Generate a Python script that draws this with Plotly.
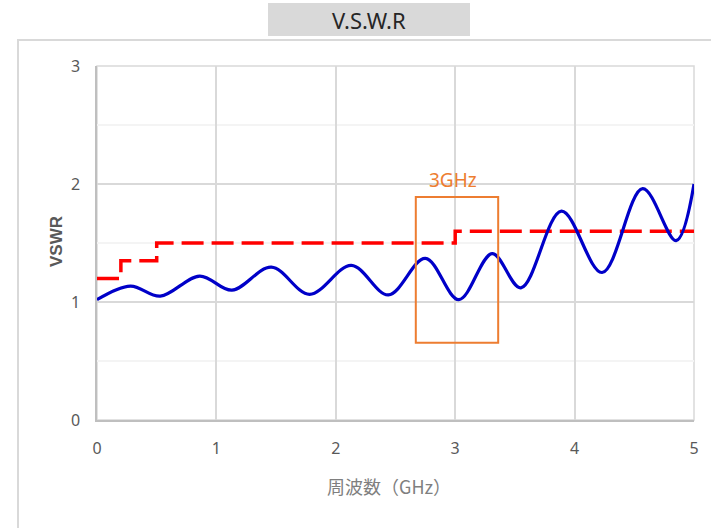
import plotly.graph_objects as go

# Blue VSWR curve (extrema points)
freq_ghz = [0.0, 0.28, 0.53, 0.86, 1.13, 1.46, 1.78, 2.13, 2.44, 2.75, 3.03, 3.31, 3.55, 3.89, 4.23, 4.57, 4.85, 5.0]
vswr = [1.02, 1.135, 1.05, 1.22, 1.10, 1.295, 1.065, 1.31, 1.06, 1.37, 1.02, 1.41, 1.12, 1.77, 1.25, 1.96, 1.52, 2.0]

# Red spec limit (step)
spec_freq = [0.0, 0.2, 0.5, 3.0, 5.0]
spec_vswr = [1.2, 1.35, 1.5, 1.6, 1.6]

x_ticks = [0, 1, 2, 3, 4, 5]
y_ticks = [0, 1, 2, 3]

# Highlight box around 3 GHz
box_x = [2.67, 3.36]
box_y = [0.655, 1.89]
box_label = "3GHz"

TICK_FONT = dict(family="Liberation Sans Narrow, Noto Sans, sans-serif", size=16, color="#595959")

fig = go.Figure()
fig.add_trace(go.Scatter(x=spec_freq, y=spec_vswr, mode="lines", line_shape="hv",
                         line=dict(color="#FF0000", width=3.5, dash="22px,8px"), showlegend=False))
fig.add_trace(go.Scatter(x=freq_ghz, y=vswr, mode="lines", line_shape="spline",
                         line=dict(color="#0000C8", width=3.2, smoothing=1.0), showlegend=False))

W, H = 711, 528
L, R, T, B = 97, 694, 66, 420
pw, ph = R - L, B - T

def px(x):
    return (x - L) / pw

def py(y):
    return (B - y) / ph

shapes = [
    # outer chart border
    dict(type="rect", xref="paper", yref="paper", x0=px(18), x1=px(720), y0=py(540), y1=py(40),
         line=dict(color="#d9d9d9", width=2), layer="below"),
    # plot area border
    dict(type="rect", xref="paper", yref="paper", x0=0, x1=1, y0=0, y1=1,
         line=dict(color="#d9d9d9", width=1.5), layer="below"),
    # title box
    dict(type="rect", xref="paper", yref="paper", x0=px(268), x1=px(470), y0=py(36), y1=py(3),
         fillcolor="#d9d9d9", line=dict(width=0), layer="below"),
    # 3 GHz highlight box
    dict(type="rect", xref="x", yref="y", x0=box_x[0], x1=box_x[1], y0=box_y[0], y1=box_y[1],
         line=dict(color="#ED7D31", width=2)),
]

annotations = [
    dict(text="V.S.W.R", xref="paper", yref="paper", x=px(369), y=py(20), showarrow=False,
         xanchor="center", yanchor="middle",
         font=dict(family="Liberation Sans Narrow, Noto Sans, sans-serif", size=22, color="#262626")),
    dict(text="VSWR", xref="paper", yref="paper", x=px(56), y=py(242), showarrow=False, textangle=-90,
         xanchor="center", yanchor="middle",
         font=dict(family="Liberation Sans, Noto Sans, sans-serif", size=17, color="#595959", weight="bold")),
    dict(text="周波数（GHz）", xref="paper", yref="paper", x=px(389), y=py(486), showarrow=False,
         xanchor="center", yanchor="middle",
         font=dict(family="Noto Sans CJK JP, sans-serif", size=18, color="#7f7f7f")),
    dict(text=box_label, xref="x", yref="y", x=(box_x[0] + box_x[1]) / 2 - 0.03, y=box_y[1], showarrow=False,
         xanchor="center", yanchor="bottom", yshift=2,
         font=dict(family="Liberation Sans Narrow, Noto Sans, sans-serif", size=19, color="#ED7D31")),
]

fig.update_layout(
    width=W, height=H,
    margin=dict(l=L, r=W - R, t=T, b=H - B),
    paper_bgcolor="white", plot_bgcolor="white",
    shapes=shapes, annotations=annotations,
    showlegend=False,
)
fig.update_xaxes(range=[0, 5], tickvals=x_ticks, ticktext=[str(v) for v in x_ticks],
                 showgrid=True, gridcolor="#d9d9d9", gridwidth=1.5, zeroline=False,
                 showline=True, linecolor="#bfbfbf", linewidth=2,
                 ticks="outside", ticklen=13, tickcolor="rgba(0,0,0,0)", tickfont=TICK_FONT)
fig.update_yaxes(range=[0, 3], tickvals=y_ticks, ticktext=[str(v) for v in y_ticks],
                 showgrid=True, gridcolor="#d9d9d9", gridwidth=1.5, zeroline=False,
                 showline=True, linecolor="#bfbfbf", linewidth=1.5,
                 minor=dict(dtick=0.5, showgrid=True, gridcolor="#f4f4f4", gridwidth=1.5),
                 ticks="outside", ticklen=12, tickcolor="rgba(0,0,0,0)", tickfont=TICK_FONT)

fig.write_html("out.html", config={"displayModeBar": False},
               post_script="document.body.style.margin='0';document.body.style.overflow='hidden';")
